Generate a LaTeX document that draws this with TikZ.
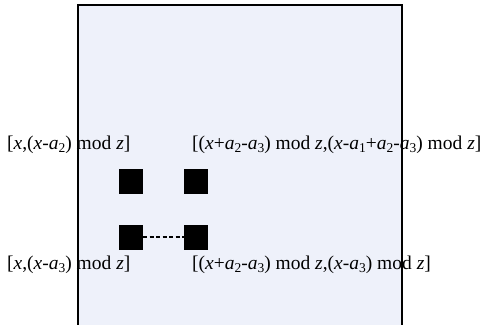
\documentclass[tikz,border=0pt]{standalone}
\usepackage{fontspec}
\setmainfont{Liberation Serif}
\usetikzlibrary{positioning}
\definecolor{boxfill}{RGB}{238,241,250}
\newcommand{\vx}{\textit{x}}
\newcommand{\vz}{\textit{z}}
\newcommand{\va}[1]{\textit{a}\raisebox{-0.3ex}{\fontsize{13.5}{13.5}\selectfont #1}}

\begin{document}
\begin{tikzpicture}[x=1pt,y=1pt]
    \tikzstyle{cell}=[rectangle,fill=black,minimum width=24pt,minimum height=25pt,inner sep=0pt]
    \tikzstyle{coord}=[anchor=west,inner sep=0pt,font=\fontsize{19.5}{22}\selectfont]
    \tikzstyle{frame}=[draw=black,line width=2pt]
    \useasboundingbox (0,0) rectangle (481,324);

    % Draw the background of the frame
    \fill[boxfill] (77.5,-5) rectangle (402,319);

    % Draw the cells
    \foreach \name / \x / \y in {TL/131/142.5,TR/196/142.5,BL/131/87,BR/196/87}
        \node[cell] (C-\name) at (\x,\y) {};
    \draw[dash pattern=on 4pt off 2.5pt,line width=2.5pt] (C-BL.east) -- (C-BR.west);

    % Draw the labels
    \node[coord] (L-TL) at (7,179) {[\vx,(\vx-\va{2}) mod \vz]};
    \node[coord] (L-TR) at (192,179) {[(\vx+\va{2}-\va{3}) mod \vz,(\vx-\va{1}+\va{2}-\va{3}) mod \vz]};
    \node[coord] (L-BL) at (7,59) {[\vx,(\vx-\va{3}) mod \vz]};
    \node[coord] (L-BR) at (192,59) {[(\vx+\va{2}-\va{3}) mod \vz,(\vx-\va{3}) mod \vz]};

    % Draw the frame over the labels
    \coordinate (F-BL) at (77.5,-5);
    \coordinate (F-TL) at (77.5,319);
    \coordinate (F-TR) at (402,319);
    \coordinate (F-BR) at (402,-5);
    \draw[frame] (F-BL) -- (F-TL) -- (F-TR) -- (F-BR);
\end{tikzpicture}
\end{document}
